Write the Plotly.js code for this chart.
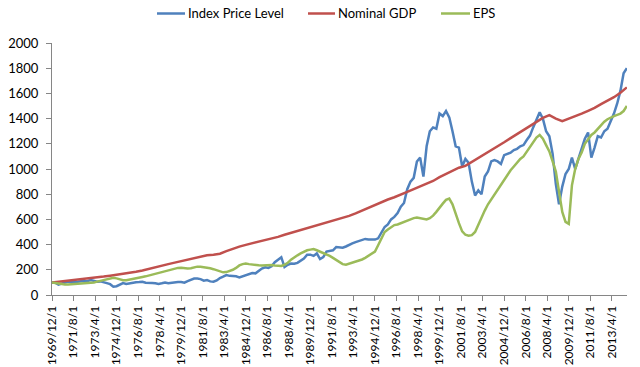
<!DOCTYPE html>
<html><head><meta charset="utf-8">
<script src="https://cdn.plot.ly/plotly-3.0.1.min.js"></script>
<style>body{margin:0;background:#fff}#chart{width:640px;height:367px}</style>
</head><body><div id="chart"></div>
<script>
const seriesNames = ["Index Price Level", "Nominal GDP", "EPS"];
const seriesColors = ["#4F81BD", "#C0504D", "#9BBB59"];

// Quarterly values, 1969/12 to 2014/6 (Mar, Jun, Sep, Dec)
const indexPrice = [100,
 97,82,90,99, 106,104,102,105, 109,110,112,118, 113,106,108,98, 94,86,66,70,
 84,95,87,92, 101,102,103,105, 97,98,95,93, 88,93,99,94, 99,100,104,103,
 98,110,120,130, 130,126,114,118, 108,105,116,135, 145,158,152,150, 148,140,150,158,
 168,175,172,192, 210,220,215,228, 260,280,300,222, 240,250,248,255, 270,290,320,320,
 310,330,285,300, 345,350,355,380, 375,375,385,400, 410,420,430,440, 445,440,438,440,
 450,500,540,560, 600,620,650,700, 730,840,900,930, 1060,1090,940,1180, 1300,1330,1320,1440,
 1420,1460,1410,1300, 1180,1170,1020,1080, 1050,900,790,830, 800,940,980,1060, 1070,1060,1040,1110,
 1120,1130,1150,1160, 1180,1190,1230,1265, 1330,1390,1450,1400, 1300,1260,1120,880, 720,860,960,1000,
 1090,1000,1080,1150, 1240,1290,1090,1170, 1260,1250,1300,1320, 1380,1440,1520,1620, 1760,1800];

const eps = [100,
 95,90,86,84, 84,86,87,87, 88,90,93,96, 100,106,113,120, 126,132,137,132,
 122,117,118,122, 126,132,138,143, 148,155,160,165, 170,178,186,195, 203,210,215,217,
 213,210,212,220, 225,225,222,218, 212,205,195,188, 180,182,190,200, 215,235,245,250,
 245,240,238,236, 235,238,240,238, 235,232,230,240, 255,280,300,315, 330,345,355,360,
 365,355,345,335, 325,310,295,280, 260,245,240,248, 258,265,272,282, 295,310,325,345,
 395,450,500,520, 535,555,560,570, 580,590,605,610, 615,610,600,600, 610,630,660,695,
 725,755,765,720, 640,570,505,478, 470,475,500,560, 610,670,720,760, 800,840,880,920,
 960,990,1020,1050, 1080,1100,1140,1180, 1210,1250,1270,1240, 1190,1140,1060,980, 820,660,580,565,
 870,1000,1080,1130, 1200,1240,1270,1290, 1320,1350,1375,1395, 1410,1420,1430,1440, 1460,1500];

// Semiannual values, 1969/12 to 2014/6 (Jun, Dec)
const nominalGdp = [100,
 105,110, 115,120, 126,132, 139,146, 153,160, 167,175, 185,195, 206,218, 231,245, 257,269,
 280,292, 304,315, 320,328, 348,368, 384,398, 411,423, 434,445, 461,478, 493,507, 524,540,
 556,570, 582,595, 612,628, 648,670, 695,720, 740,758, 776,795, 818,840, 860,880, 905,935,
 960,985, 1010,1025, 1055,1085, 1115,1148, 1180,1212, 1245,1278, 1310,1340, 1372,1405, 1428,1400,
 1380,1398, 1420,1440, 1462,1485, 1515,1540, 1570,1605, 1648];

function monthDates(y, m, step, n) {
  const out = [];
  for (let i = 0; i < n; i++) {
    const t = (m - 1) + i * step;
    const yy = y + Math.floor(t / 12), mm = (t % 12) + 1;
    out.push(yy + "-" + String(mm).padStart(2, "0") + "-01");
  }
  return out;
}
const quarterDates = monthDates(1969, 12, 3, indexPrice.length);
const halfDates = monthDates(1969, 12, 6, nominalGdp.length);
const tickDates = monthDates(1969, 12, 20, 27);
const tickLabels = tickDates.map(d => { const p = d.split("-"); return (+p[0]) + "/" + (+p[1]) + "/1"; });

const font = "Lato, 'Open Sans', sans-serif";
const traces = [
  {x: quarterDates, y: indexPrice, name: seriesNames[0]},
  {x: halfDates, y: nominalGdp, name: seriesNames[1]},
  {x: quarterDates, y: eps, name: seriesNames[2]}
].map((t, i) => Object.assign(t, {type: "scatter", mode: "lines", line: {color: seriesColors[i], width: 2.5}}));

// Legend drawn above the plot (pixel positions converted to paper coordinates)
const L = 52, W = 575, B = 295, H = 252;
const px = v => (v - L) / W, py = v => (B - v) / H;
const legendItems = [[157, 185], [308, 335], [441, 470]];
const shapes = legendItems.map((it, i) => ({type: "line", xref: "paper", yref: "paper",
  x0: px(it[0]), x1: px(it[1]), y0: py(13.5), y1: py(13.5), line: {color: seriesColors[i], width: 2.5}}));
const annotations = legendItems.map((it, i) => ({xref: "paper", yref: "paper", x: px(it[1] + 1), y: py(13.5),
  xanchor: "left", yanchor: "middle", showarrow: false, text: seriesNames[i],
  font: {family: font, size: 13, color: "#000"}}));

const layout = {
  width: 640, height: 367,
  margin: {l: 52, r: 13, t: 43, b: 72},
  paper_bgcolor: "#fff", plot_bgcolor: "#fff",
  font: {family: font, size: 12, color: "#000"},
  showlegend: false,
  shapes: shapes, annotations: annotations,
  xaxis: {type: "date", range: ["1969-12-01", "2014-06-05"], tickmode: "array",
          tickvals: tickDates, ticktext: tickLabels, tickangle: -90,
          ticks: "outside", ticklen: 5, tickcolor: "#868686", showline: true, linecolor: "#868686",
          linewidth: 1, showgrid: false, zeroline: false, tickfont: {family: font, size: 12, color: "#000"}},
  yaxis: {range: [0, 2000], tickmode: "linear", tick0: 0, dtick: 200,
          ticks: "outside", ticklen: 5, tickcolor: "#868686", showline: true, linecolor: "#868686",
          ticklabelstandoff: 5,
          linewidth: 1, showgrid: false, zeroline: false, tickfont: {family: font, size: 13, color: "#000"}}
};
Plotly.newPlot("chart", traces, layout, {displayModeBar: false, staticPlot: true});
</script></body></html>
